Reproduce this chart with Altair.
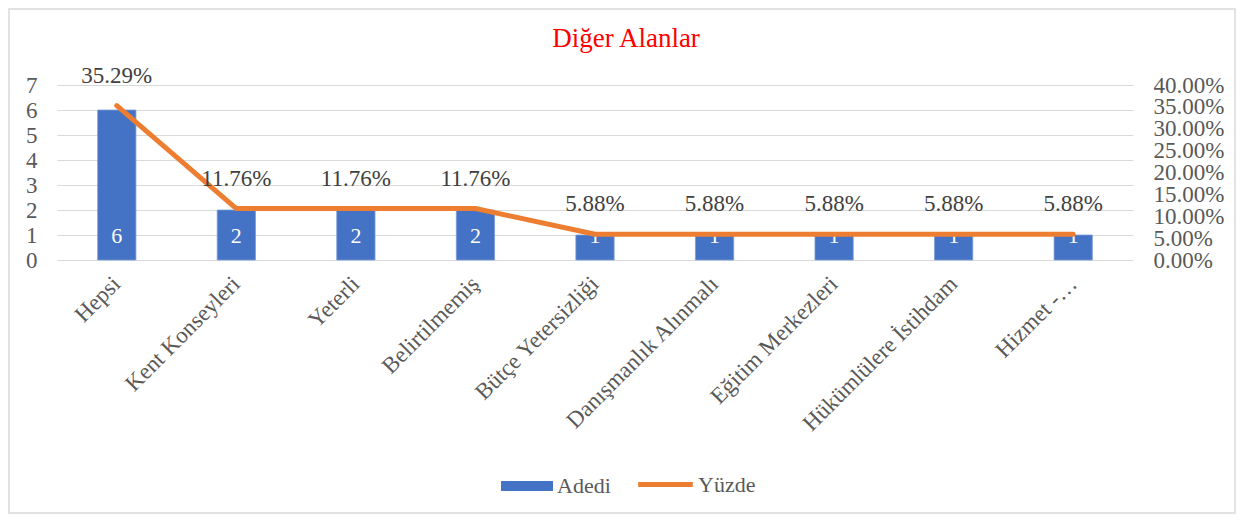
import altair as alt
import pandas as pd

categories = ["Hepsi", "Kent Konseyleri", "Yeterli", "Belirtilmemiş", "Bütçe Yetersizliği",
              "Danışmanlık Alınmalı", "Eğitim Merkezleri", "Hükümlülere İstihdam", "Hizmet -…"]
counts = [6, 2, 2, 2, 1, 1, 1, 1, 1]
percents = [35.29, 11.76, 11.76, 11.76, 5.88, 5.88, 5.88, 5.88, 5.88]

df = pd.DataFrame({"cat": categories, "count": counts, "pct": percents})
df["pct_label"] = [f"{p:.2f}%" for p in percents]
df["zero"] = 0
df["s1"] = "Adedi"
df["s2"] = "Yüzde"

FONT = "Liberation Serif"
BLUE = "#4472C4"
ORANGE = "#ED7D31"
GRAY = "#595959"

xenc = alt.X("cat:N", sort=categories, title=None,
             scale=alt.Scale(paddingInner=0.68, paddingOuter=0.34),
             axis=alt.Axis(labelAngle=-45, labelAlign="right", labelBaseline="middle",
                           labelFont=FONT, labelFontSize=23, labelColor=GRAY,
                           labelPadding=20, ticks=False, domain=False, grid=False,
                           labelLimit=400))

yleft = alt.Scale(domain=[0, 7], nice=False, zero=True)
yright = alt.Scale(domain=[0, 40], nice=False, zero=True)

base = alt.Chart(df)

bars = base.mark_bar(color=BLUE, stroke="#7a9cd8", strokeWidth=0.8).encode(
    x=xenc,
    y=alt.Y("count:Q", scale=yleft, title=None,
            axis=alt.Axis(orient="left", values=list(range(8)), labelFont=FONT,
                          labelFontSize=23, labelColor=GRAY, labelPadding=20,
                          labelOverlap=False,
                          ticks=False, domain=False, grid=True, gridColor="#d9d9d9",
                          gridWidth=1.2)),
    fill=alt.Fill("s1:N", title=None,
                  scale=alt.Scale(domain=["Adedi"], range=[BLUE]),
                  legend=alt.Legend(orient="none", legendX=444, legendY=375,
                                    symbolType="M-1,-0.19H1V0.19H-1Z", symbolSize=2704,
                                    symbolStrokeWidth=0, labelFont=FONT, labelFontSize=22,
                                    labelColor=GRAY, labelOffset=4, padding=0)),
)

bar_text = base.mark_text(color="white", font=FONT, fontSize=22, baseline="middle", dy=-24).encode(
    x=alt.X("cat:N", sort=categories),
    y=alt.Y("zero:Q", scale=yleft, axis=None),
    text=alt.Text("count:Q"),
)

line = base.mark_line(color=ORANGE, strokeWidth=5, strokeCap="round", strokeJoin="round").encode(
    x=alt.X("cat:N", sort=categories),
    y=alt.Y("pct:Q", scale=yright, title=None,
            axis=alt.Axis(orient="right", values=list(range(0, 45, 5)),
                          labelExpr="format(datum.value, '.2f') + '%'",
                          labelFont=FONT, labelFontSize=23, labelColor=GRAY,
                          labelOverlap=False,
                          labelPadding=20, ticks=False, domain=False, grid=False)),
    stroke=alt.Stroke("s2:N", title=None,
                      scale=alt.Scale(domain=["Yüzde"], range=[ORANGE]),
                      legend=alt.Legend(orient="none", legendX=580, legendY=371,
                                        symbolType="M-1.05,0H1.05", symbolSize=2704,
                                        symbolStrokeWidth=5, labelFont=FONT, labelFontSize=22,
                                        labelColor=GRAY, labelOffset=4, padding=0)),
)

line_text = base.mark_text(color="#404040", font=FONT, fontSize=23, baseline="middle", dy=-30).encode(
    x=alt.X("cat:N", sort=categories),
    y=alt.Y("pct:Q", scale=yright, axis=None),
    text="pct_label:N",
)

border = alt.Chart(alt.Data(values=[{}])).mark_rect(
    fill=None, stroke="#d9d9d9", strokeWidth=1.5).encode(
    x=alt.value(-48), x2=alt.value(1178), y=alt.value(-76), y2=alt.value(428))

chart = alt.layer(border, bars, bar_text, line, line_text).resolve_scale(
    y="independent"
).properties(
    width=1076, height=175,
    padding={"left": 49, "top": 77, "right": 103, "bottom": 254},
    autosize=alt.AutoSizeParams(type="none"),
    title=alt.TitleParams("Diğer Alanlar", font=FONT, fontSize=27, color="#FF0000",
                          fontWeight="normal", anchor="middle", dx=31, offset=0, dy=45),
).configure_view(stroke=None)

chart.save("out.html", embed_options={"renderer": "svg", "actions": False})
